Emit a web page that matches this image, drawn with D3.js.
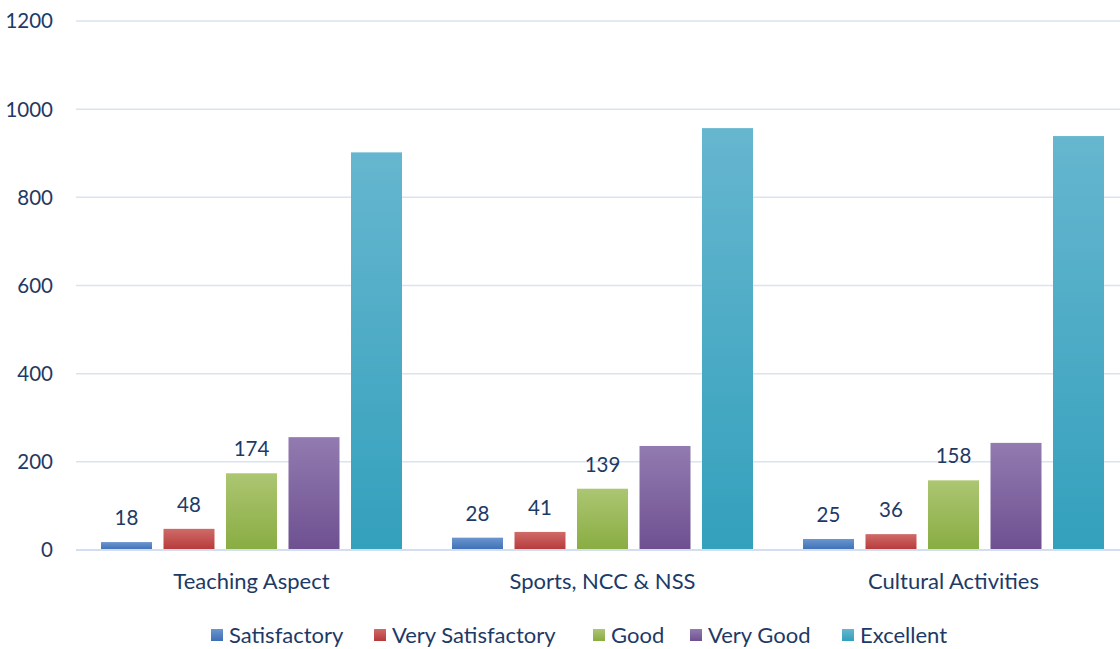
<!DOCTYPE html>
<html lang="en">
<head>
<meta charset="UTF-8">
<title>Feedback bar chart</title>
<style>
  body { margin: 0; background: #fff; }
  text { font-family: Lato, "Open Sans", sans-serif; fill: #1d3a66; }
  .grid-line { stroke: #d9e4f2; stroke-width: 1.5px; }
  .base-line { stroke: #d3deee; stroke-width: 2px; }
</style>
</head>
<body>
<div id="container"></div>
<script src="https://d3js.org/d3.v7.min.js"></script>
<script>
// chart data
var categories = ["Teaching Aspect", "Sports, NCC & NSS", "Cultural Activities"];
var seriesNames = ["Satisfactory", "Very Satisfactory", "Good", "Very Good", "Excellent"];
var satisfactory = [18, 28, 25];
var verySatisfactory = [48, 41, 36];
var good = [174, 139, 158];
var veryGood = [256, 236, 243];
var excellent = [902, 957, 939];
var yTicks = [0, 200, 400, 600, 800, 1000, 1200];
var labelledSeries = ["Satisfactory", "Very Satisfactory", "Good"];

var seriesValues = [satisfactory, verySatisfactory, good, veryGood, excellent];
var colors = [
  ["#6b96cf", "#3d6fb5"],
  ["#cf6b68", "#b7393a"],
  ["#acc672", "#89ac42"],
  ["#927bb0", "#6e5091"],
  ["#66b6cf", "#33a0bc"]
];

var width = 1120, height = 649;

var svg = d3.select("#container").append("svg")
  .attr("width", width)
  .attr("height", height);

var y = d3.scaleLinear().domain([0, 1200]).range([550, 21]);

var x0 = d3.scaleBand().domain(categories).range([76, 1129]).padding(0);

var x1 = d3.scaleBand().domain(seriesNames)
  .range([0, x0.bandwidth()])
  .paddingInner(0.184)
  .paddingOuter(0.4);

// gradients
var defs = svg.append("defs");
seriesNames.forEach(function (s, i) {
  var g = defs.append("linearGradient")
    .attr("id", "grad" + i)
    .attr("x1", 0).attr("y1", 0).attr("x2", 0).attr("y2", 1);
  g.append("stop").attr("offset", "0%").attr("stop-color", colors[i][0]);
  g.append("stop").attr("offset", "100%").attr("stop-color", colors[i][1]);
});

// grid lines
svg.append("g").selectAll("line")
  .data(yTicks.slice(1))
  .enter().append("line")
  .attr("class", "grid-line")
  .attr("x1", 76).attr("x2", width)
  .attr("y1", function (d) { return y(d); })
  .attr("y2", function (d) { return y(d); });

// y axis labels
svg.append("g").selectAll("text")
  .data(yTicks)
  .enter().append("text")
  .attr("x", 53)
  .attr("y", function (d) { return y(d); })
  .attr("dy", "0.36em")
  .attr("text-anchor", "end")
  .style("font-size", "20.5px")
  .text(function (d) { return d; });

// bars
var groups = svg.append("g").selectAll("g")
  .data(categories)
  .enter().append("g")
  .attr("transform", function (d) { return "translate(" + x0(d) + ",0)"; });

groups.selectAll("rect")
  .data(function (c, ci) {
    return seriesNames.map(function (s, si) {
      return { series: s, index: si, value: seriesValues[si][ci] };
    });
  })
  .enter().append("rect")
  .attr("x", function (d) { return x1(d.series); })
  .attr("y", function (d) { return y(d.value); })
  .attr("width", x1.bandwidth())
  .attr("height", function (d) { return y(0) - y(d.value); })
  .attr("fill", function (d) { return "url(#grad" + d.index + ")"; });

// data labels
groups.selectAll("text")
  .data(function (c, ci) {
    return seriesNames.map(function (s, si) {
      return { series: s, value: seriesValues[si][ci] };
    }).filter(function (d) { return labelledSeries.indexOf(d.series) > -1; });
  })
  .enter().append("text")
  .attr("x", function (d) { return x1(d.series) + x1.bandwidth() / 2; })
  .attr("y", function (d) { return y(d.value) - 17; })
  .attr("text-anchor", "middle")
  .style("font-size", "20.5px")
  .text(function (d) { return d.value; });

// base line
svg.append("line")
  .attr("class", "base-line")
  .attr("x1", 76).attr("x2", width)
  .attr("y1", y(0)).attr("y2", y(0));

// category labels
svg.append("g").selectAll("text")
  .data(categories)
  .enter().append("text")
  .attr("x", function (d) { return x0(d) + x0.bandwidth() / 2; })
  .attr("y", 589)
  .attr("text-anchor", "middle")
  .style("font-size", "22px")
  .text(function (d) { return d; });

// legend
var legendX = [211, 374, 593, 690, 842];
var legend = svg.append("g").selectAll("g")
  .data(seriesNames)
  .enter().append("g")
  .attr("transform", function (d, i) { return "translate(" + legendX[i] + ",635)"; });

legend.append("rect")
  .attr("x", 0).attr("y", -6)
  .attr("width", 12).attr("height", 12)
  .attr("fill", function (d, i) { return "url(#grad" + i + ")"; });

legend.append("text")
  .attr("x", 18)
  .attr("dy", "0.36em")
  .style("font-size", "22px")
  .text(function (d) { return d; });
</script>
</body>
</html>
